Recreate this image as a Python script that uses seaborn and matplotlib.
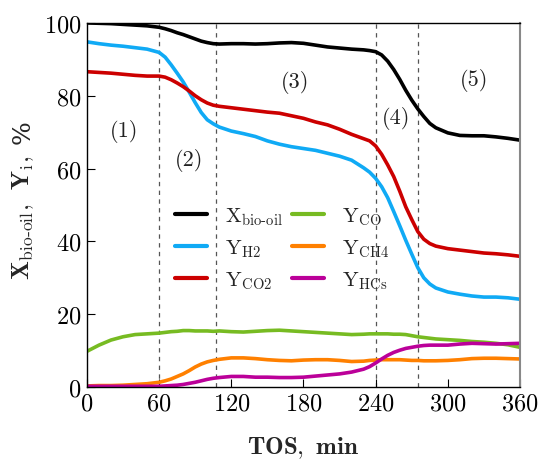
import matplotlib
matplotlib.use("Agg")
import matplotlib.pyplot as plt
import seaborn as sns
import pandas as pd

sns.set_theme(style="white")
plt.rcParams['font.family'] = 'serif'
plt.rcParams['font.serif'] = ['cmr10']
plt.rcParams['mathtext.fontset'] = 'cm'
plt.rcParams['axes.formatter.use_mathtext'] = True

tos = [0, 10, 20, 30, 40, 50, 60, 65, 70, 75, 80, 85, 90, 95, 100, 105, 110, 120, 130, 140,
       150, 160, 170, 180, 190, 200, 210, 220, 230, 235, 240, 245, 250, 255, 260, 265, 270,
       275, 280, 285, 290, 300, 310, 320, 330, 340, 350, 360]

x_biooil = [100, 99.9, 99.8, 99.6, 99.4, 99.2, 98.8, 98.4, 97.9, 97.3, 96.8, 96.2, 95.6, 95.0,
            94.6, 94.3, 94.2, 94.3, 94.3, 94.2, 94.3, 94.5, 94.6, 94.4, 93.9, 93.4, 93.1, 92.8,
            92.6, 92.4, 92.1, 91.2, 89.5, 87.2, 84.5, 81.5, 78.8, 76.4, 74.3, 72.4, 71.2, 69.8,
            69.1, 69.0, 69.0, 68.7, 68.3, 67.8]
y_h2 = [94.8, 94.3, 93.9, 93.6, 93.2, 92.8, 91.9, 90.6, 88.5, 86.2, 83.8, 81.0, 78.1, 75.4,
        73.4, 72.3, 71.4, 70.3, 69.6, 68.8, 67.6, 66.7, 66.0, 65.5, 65.0, 64.2, 63.4, 62.3,
        60.2, 59.0, 57.3, 55.0, 52.0, 48.2, 44.3, 40.3, 36.5, 32.8, 30.0, 28.3, 27.2, 26.1,
        25.5, 25.0, 24.7, 24.7, 24.5, 24.1]
y_co2 = [86.6, 86.4, 86.2, 85.9, 85.6, 85.4, 85.4, 85.1, 84.4, 83.5, 82.5, 81.3, 80.0, 78.9,
         78.0, 77.4, 77.1, 76.7, 76.3, 75.9, 75.5, 75.2, 74.5, 73.8, 72.8, 72.0, 70.8, 69.4,
         68.2, 67.6, 66.2, 63.9, 61.0, 57.8, 53.8, 49.5, 46.0, 42.7, 40.6, 39.4, 38.7, 38.0,
         37.6, 37.2, 36.8, 36.6, 36.3, 35.9]
y_co = [9.8, 11.5, 12.9, 13.8, 14.4, 14.6, 14.8, 15.0, 15.2, 15.3, 15.5, 15.5, 15.4, 15.4,
        15.4, 15.3, 15.4, 15.2, 15.1, 15.3, 15.5, 15.6, 15.4, 15.2, 15.0, 14.8, 14.6, 14.4,
        14.5, 14.6, 14.6, 14.6, 14.6, 14.5, 14.5, 14.4, 14.1, 13.8, 13.6, 13.4, 13.2, 13.0,
        12.8, 12.5, 12.3, 12.0, 11.6, 10.9]
y_ch4 = [0.3, 0.4, 0.4, 0.5, 0.7, 0.9, 1.3, 1.7, 2.2, 2.9, 3.6, 4.5, 5.5, 6.3,
         6.9, 7.3, 7.6, 8.0, 8.0, 7.8, 7.5, 7.3, 7.2, 7.4, 7.5, 7.5, 7.3, 7.0,
         7.1, 7.3, 7.4, 7.5, 7.5, 7.5, 7.5, 7.4, 7.3, 7.3, 7.2, 7.2, 7.2, 7.3,
         7.5, 7.8, 7.9, 7.9, 7.8, 7.7]
y_hcs = [0.2, 0.2, 0.2, 0.2, 0.2, 0.2, 0.2, 0.3, 0.4, 0.5, 0.7, 1.0, 1.3, 1.7,
         2.1, 2.4, 2.6, 2.9, 2.9, 2.7, 2.7, 2.6, 2.6, 2.7, 3.0, 3.3, 3.6, 4.1,
         4.9, 5.6, 6.6, 7.7, 8.7, 9.5, 10.1, 10.6, 10.9, 11.2, 11.4, 11.5, 11.5, 11.5,
         11.8, 12.0, 11.9, 11.8, 11.9, 12.0]

labels = [r'$\mathrm{X}_{\mathrm{bio\text{-}oil}}$', r'$\mathrm{Y}_{\mathrm{H2}}$', r'$\mathrm{Y}_{\mathrm{CO2}}$',
          r'$\mathrm{Y}_{\mathrm{CO}}$', r'$\mathrm{Y}_{\mathrm{CH4}}$', r'$\mathrm{Y}_{\mathrm{HCs}}$']
series = [x_biooil, y_h2, y_co2, y_co, y_ch4, y_hcs]
colors = ['#000000', '#10AAF5', '#CC0000', '#77BB22', '#FF8000', '#BB0099']

stage_bounds = [60, 107, 240, 275]
stage_labels = ['(1)', '(2)', '(3)', '(4)', '(5)']
stage_x = [31, 85, 173, 257, 322]
stage_y = [70.5, 62.5, 84, 74, 84.5]

rows = []
for lab, vals in zip(labels, series):
    for t, v in zip(tos, vals):
        rows.append({'TOS': t, 'value': v, 'series': lab})
df = pd.DataFrame(rows)

fig = plt.figure(figsize=(5.4, 4.6), dpi=100)
ax = fig.add_axes([0.161, 0.1565, 0.802, 0.7915])

sns.lineplot(data=df, x='TOS', y='value', hue='series', hue_order=labels,
             palette=dict(zip(labels, colors)), linewidth=2.6, ax=ax, legend=False)
for line in ax.get_lines():
    line.set_solid_joinstyle('round')
    line.set_solid_capstyle('round')

for b in stage_bounds:
    ax.axvline(b, color='#555555', linestyle=(0, (3.5, 3.5)), linewidth=0.9, zorder=0)

for s, sx, sy in zip(stage_labels, stage_x, stage_y):
    ax.text(sx, sy, s, fontsize=16, ha='center', va='center', color='#222222')

handles = [plt.Line2D([], [], color=c, linewidth=3) for c in colors]
ax.legend(handles, labels, ncol=2, frameon=False, fontsize=15,
          loc='upper left', bbox_to_anchor=(0.159, 0.55), handlelength=1.55,
          columnspacing=0.45, labelspacing=0.5, handletextpad=0.85)

ax.set_xlim(0, 360)
ax.set_ylim(0, 100)
ax.set_xticks([0, 60, 120, 180, 240, 300, 360])
ax.set_yticks([0, 20, 40, 60, 80, 100])
ax.tick_params(direction='in', length=6, width=0.8, labelsize=17.5, colors='black',
               bottom=True, left=True, top=False, right=False, pad=4)
for sp in ['left', 'bottom', 'top']:
    ax.spines[sp].set_color('black')
    ax.spines[sp].set_linewidth(1.0)
ax.spines['right'].set_color('#888888')
ax.spines['right'].set_linewidth(1.5)

ax.set_xlabel(r'$\mathbf{TOS,\ min}$', fontsize=18, va='center')
ax.xaxis.set_label_coords(0.5, -0.165)
ax.set_ylabel(r'$\mathbf{X}_{\mathrm{bio\text{-}oil}}\mathbf{,}\ \ \mathbf{Y}_{\mathrm{i}}\mathbf{,}$',
              fontsize=18, va='center')
ax.yaxis.set_label_coords(-0.148, 0.468)
fig.text(23 / 540, 1 - 132 / 460, '%', rotation=90, fontsize=18, family='DejaVu Serif',
         ha='center', va='center')

fig.savefig('out.png', dpi=100)
